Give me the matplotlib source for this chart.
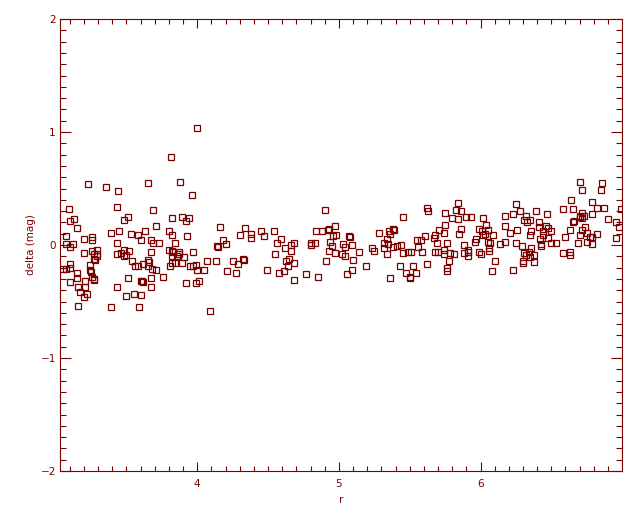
import matplotlib
matplotlib.use("Agg")
import matplotlib.pyplot as plt
from matplotlib.ticker import MultipleLocator, FixedLocator

r_vals = [
    3.23, 3.358, 3.44, 3.65, 3.88, 3.96, 3.43, 3.097, 3.69, 3.51, 3.48, 3.10, 3.13, 3.15,
    3.82, 3.89, 3.92, 3.94, 3.71, 4.16, 4.34, 4.30, 3.075, 3.26, 3.26, 3.39, 3.45, 3.53,
    3.58, 3.63, 3.80, 3.82, 3.93, 4.18, 4.20, 4.14, 4.15, 3.075, 3.10, 3.12, 3.20, 3.43,
    3.60, 3.675, 3.69, 3.73, 3.84, 3.80, 3.82, 3.83, 3.87, 3.87, 3.97, 3.675, 3.52, 3.48,
    3.20, 3.26, 3.29, 3.27, 3.29, 3.29, 3.28, 3.27, 3.43, 3.46, 3.48, 3.50, 3.54, 3.56,
    3.58, 3.65, 3.66, 3.62, 3.65, 3.68, 3.71, 3.82, 3.86, 3.91, 3.82, 3.84, 3.89, 3.81,
    4.07, 4.13, 4.25, 4.32, 4.29, 4.21, 4.275, 3.95, 3.97, 3.99, 4.00, 4.05, 3.055, 3.075,
    3.10, 3.10, 3.15, 3.15, 3.245, 3.245, 3.25, 3.26, 3.27, 3.27, 3.21, 3.21, 3.16, 3.17,
    3.20, 3.22, 3.10, 3.16, 3.39, 3.59, 3.435, 3.51, 3.60, 3.61, 3.62, 3.67, 3.50, 3.555,
    3.60, 3.675, 3.76, 3.92, 3.99, 4.01, 4.09, 3.815, 4.00,
    4.38, 4.38, 4.45, 4.47, 4.54, 4.90, 4.97, 4.84, 4.88, 4.92, 4.93, 4.96, 4.98, 5.07,
    5.08, 5.28, 5.355, 5.36, 5.38, 5.39, 5.45, 5.62, 5.63, 5.61, 5.68, 5.67, 5.71, 4.56,
    4.59, 4.62, 4.66, 4.66, 4.68, 4.80, 4.80, 4.83, 4.94, 4.95, 4.93, 4.97, 5.03, 5.04,
    5.02, 5.04, 5.09, 5.14, 5.235, 5.25, 5.32, 5.32, 5.34, 5.35, 5.34, 5.38, 5.41, 5.44,
    5.45, 5.49, 5.51, 5.56, 5.58, 5.55, 5.59, 5.68, 5.70, 5.69, 4.55, 4.33, 4.49, 4.58,
    4.61, 4.68, 4.64, 4.63, 4.65, 4.68, 4.77, 4.85, 4.91, 5.06, 5.09, 5.10, 5.19, 5.36,
    5.43, 5.475, 5.50, 5.50, 5.52, 5.545, 5.62,
    6.70, 6.86, 6.72, 6.85, 6.64, 5.84, 6.79, 6.25, 6.58, 6.65, 6.82, 6.87, 5.83, 5.86,
    5.75, 6.28, 6.39, 6.47, 6.17, 6.23, 6.32, 6.70, 6.72, 6.73, 6.72, 6.70, 6.79, 6.99,
    5.80, 5.84, 5.90, 5.93, 6.02, 6.90, 6.31, 6.33, 6.35, 6.66, 6.65, 6.96, 6.98, 5.75,
    6.04, 6.17, 6.41, 6.41, 6.46, 6.48, 6.50, 6.44, 6.74, 5.74, 5.86, 5.85, 5.99, 6.01,
    6.03, 6.05, 6.26, 6.21, 6.63, 6.60, 6.72, 6.70, 6.75, 6.82, 6.77, 6.79, 6.75, 6.79,
    6.69, 6.96, 5.96, 5.97, 6.02, 6.05, 6.07, 6.09, 6.35, 6.36, 6.42, 6.44, 6.43, 6.43,
    6.48, 6.50, 6.53, 6.17, 6.25, 6.29, 6.14, 5.76, 5.88, 5.91, 5.91, 5.91, 5.99, 6.00,
    6.06, 6.06, 5.74, 5.74, 5.785, 5.81, 5.78, 5.76, 5.76, 5.88, 6.58, 6.63, 6.63, 6.31,
    6.32, 6.34, 6.36, 6.38, 6.35, 6.30, 6.30, 6.38, 6.10, 6.08, 6.23,
]

delta_vals = [
    0.54, 0.51, 0.48, 0.55, 0.56, 0.44, 0.34, 0.32, 0.31, 0.25, 0.22, 0.21, 0.23, 0.15,
    0.24, 0.25, 0.21, 0.24, 0.17, 0.16, 0.15, 0.09, 0.08, 0.07, 0.04, 0.11, 0.12, 0.10,
    0.09, 0.12, 0.12, 0.09, 0.08, 0.04, 0.01, -0.01, -0.02, 0.01, -0.02, 0.01, 0.05, 0.02,
    0.04, 0.04, 0.02, 0.02, 0.02, -0.04, -0.05, -0.06, -0.06, -0.08, -0.06, -0.06, -0.05, -0.04,
    -0.07, -0.05, -0.04, -0.08, -0.08, -0.10, -0.13, -0.12, -0.08, -0.07, -0.10, -0.09, -0.14, -0.19,
    -0.19, -0.13, -0.15, -0.17, -0.19, -0.21, -0.22, -0.10, -0.10, -0.11, -0.16, -0.16, -0.16, -0.19,
    -0.14, -0.14, -0.14, -0.12, -0.17, -0.23, -0.25, -0.19, -0.19, -0.18, -0.22, -0.22, -0.21, -0.21,
    -0.17, -0.20, -0.25, -0.29, -0.18, -0.22, -0.24, -0.28, -0.30, -0.31, -0.32, -0.37, -0.37, -0.42,
    -0.46, -0.43, -0.33, -0.54, -0.55, -0.55, -0.37, -0.29, -0.32, -0.32, -0.33, -0.37, -0.45, -0.43,
    -0.44, -0.29, -0.28, -0.34, -0.34, -0.32, -0.58, 0.78, 1.035,
    0.10, 0.06, 0.12, 0.08, 0.12, 0.31, 0.17, 0.12, 0.12, 0.13, 0.14, 0.08, 0.09, 0.08,
    0.07, 0.11, 0.12, 0.10, 0.14, 0.13, 0.25, 0.33, 0.30, 0.08, 0.09, 0.06, 0.13, 0.02,
    0.05, -0.03, -0.05, 0.00, 0.02, 0.02, 0.00, 0.02, 0.03, -0.01, -0.05, -0.07, 0.01, -0.02,
    -0.08, -0.10, 0.00, -0.06, -0.03, -0.05, 0.02, -0.03, 0.05, 0.01, -0.08, -0.02, -0.01, 0.00,
    -0.07, -0.06, -0.06, -0.02, 0.04, 0.04, -0.06, -0.06, -0.06, 0.02, -0.08, -0.13, -0.22, -0.25,
    -0.23, -0.31, -0.19, -0.14, -0.12, -0.16, -0.26, -0.28, -0.14, -0.26, -0.22, -0.13, -0.19, -0.29,
    -0.19, -0.25, -0.28, -0.29, -0.19, -0.25, -0.17,
    0.56, 0.55, 0.49, 0.49, 0.40, 0.37, 0.38, 0.36, 0.32, 0.32, 0.33, 0.33, 0.31, 0.30,
    0.28, 0.30, 0.30, 0.27, 0.26, 0.27, 0.26, 0.26, 0.28, 0.26, 0.24, 0.25, 0.27, 0.32,
    0.24, 0.23, 0.25, 0.25, 0.24, 0.23, 0.22, 0.20, 0.22, 0.21, 0.20, 0.20, 0.16, 0.18,
    0.18, 0.17, 0.20, 0.16, 0.17, 0.15, 0.12, 0.12, 0.16, 0.11, 0.14, 0.10, 0.14, 0.12,
    0.10, 0.13, 0.13, 0.11, 0.13, 0.07, 0.13, 0.09, 0.11, 0.10, 0.07, 0.07, 0.03, 0.01,
    0.02, 0.06, 0.03, 0.05, 0.09, 0.03, 0.02, 0.09, 0.09, 0.12, 0.05, 0.09, -0.01, 0.01,
    0.06, 0.02, 0.02, 0.03, 0.02, -0.01, 0.01, 0.02, 0.00, -0.04, -0.06, -0.10, -0.06, -0.08,
    -0.03, -0.05, -0.04, -0.08, -0.07, -0.08, -0.14, -0.20, -0.23, -0.07, -0.07, -0.06, -0.09, -0.07,
    -0.09, -0.06, -0.03, -0.09, -0.11, -0.14, -0.16, -0.15, -0.14, -0.23, -0.22,
]

x_ticks = [4, 5, 6]
y_ticks = [-2, -1, 0, 1, 2]
x_label = "r"
y_label = "delta (mag)"

col = "#7a0000"
plt.rcParams["font.family"] = ["DejaVu Sans"]

fig = plt.figure(figsize=(6.4, 5.12), dpi=100)
ax = fig.add_axes([60 / 640, 41 / 512, 562 / 640, 452 / 512])

ax.plot(r_vals, delta_vals, linestyle="none", marker="s", markersize=4.6,
        markerfacecolor="none", markeredgecolor=col, markeredgewidth=0.9)

ax.set_xlim(3.031, 6.999)
ax.set_ylim(-2, 2)
ax.xaxis.set_major_locator(FixedLocator(x_ticks))
ax.yaxis.set_major_locator(FixedLocator(y_ticks))
ax.xaxis.set_minor_locator(MultipleLocator(0.1))
ax.yaxis.set_minor_locator(MultipleLocator(0.1))
ax.set_xticklabels([str(v) for v in x_ticks])
ax.set_yticklabels([str(v).replace("-", "\u2212") for v in y_ticks])

for s in ax.spines.values():
    s.set_color(col)
    s.set_linewidth(0.8)

ax.tick_params(axis="x", which="major", direction="in", length=6.7, width=0.8,
               color=col, top=True, labelcolor=col, labelsize=7.5, pad=6)
ax.tick_params(axis="x", which="minor", direction="in", length=3.4, width=0.8,
               color=col, top=True)
ax.tick_params(axis="y", which="major", direction="in", length=8.1, width=0.8,
               color=col, right=True, labelcolor=col, labelsize=7.5, pad=3)
ax.tick_params(axis="y", which="minor", direction="in", length=4.1, width=0.8,
               color=col, right=True)

ax.set_xlabel(x_label, color=col, fontsize=7.5, labelpad=4)
ax.set_ylabel(y_label, color=col, fontsize=7.5, labelpad=3)

fig.savefig("out.png", dpi=100)
